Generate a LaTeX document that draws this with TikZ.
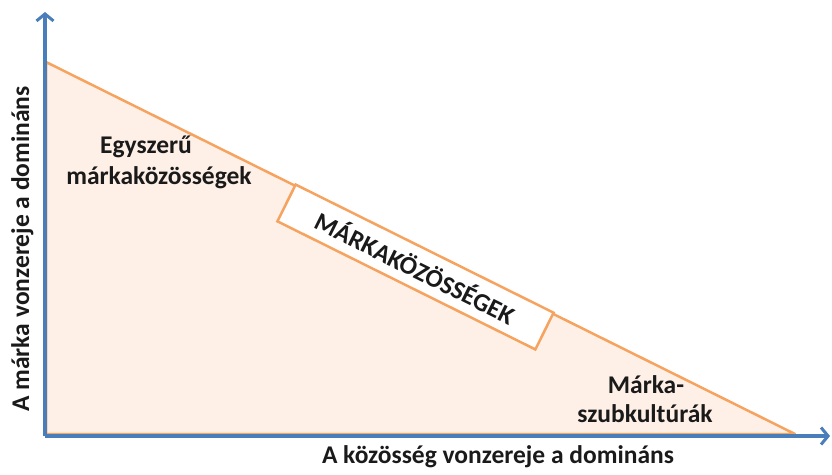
\documentclass[tikz,border=0pt]{standalone}
\usepackage{fontspec}
\setmainfont{Carlito}
\usetikzlibrary{arrows.meta}
\definecolor{axisblue}{HTML}{4A7EBB}
\definecolor{triorange}{HTML}{F5A35E}
\definecolor{trifill}{HTML}{FEF0E6}
\definecolor{txt}{HTML}{1A1A1A}
\begin{document}
\begin{tikzpicture}[x=1pt,y=-1pt,
  axis/.style={draw=axisblue,line width=3.5pt,-{Straight Barb[length=7pt,width=17pt,line width=3pt]}},
  lbl/.style={font=\bfseries\fontsize{25.5}{31}\selectfont,text=txt,inner sep=0pt},
  boxlbl/.style={draw=triorange,line width=2.5pt,fill=white,minimum width=288pt,minimum height=41pt,inner sep=0pt,text=txt,font=\bfseries\fontsize{25.5}{31}\selectfont}]
\useasboundingbox (0,0) rectangle (832,474);
\coordinate (O) at (45,436);
\coordinate (A) at (46,62);
\coordinate (B) at (795,434);
\coordinate (Ytop) at (45,12);
\coordinate (Xend) at (830,436);
\path[fill=trifill,draw=triorange,line width=2.5pt,line join=round] (A) -- (B) -- (46,434) -- cycle;
\node[boxlbl,rotate=-26.41] (box) at (415.5,267) {MÁRKAKÖZÖSSÉGEK};
\draw[axis] (O) -- (Ytop);
\draw[axis] (O) -- (Xend);
\node[lbl,anchor=base] (e1) at (146,153) {Egyszerű};
\node[lbl,anchor=base] (e2) at (159,184) {márkaközösségek};
\node[lbl,anchor=base] (m1) at (646,393) {Márka-};
\node[lbl,anchor=base] (m2) at (645,422) {szubkultúrák};
\node[lbl,anchor=base] (xl) at (498,463) {A közösség vonzereje a domináns};
\node[lbl,rotate=90,anchor=base] (yl) at (29,249) {A márka vonzereje a domináns};
\end{tikzpicture}
\end{document}
